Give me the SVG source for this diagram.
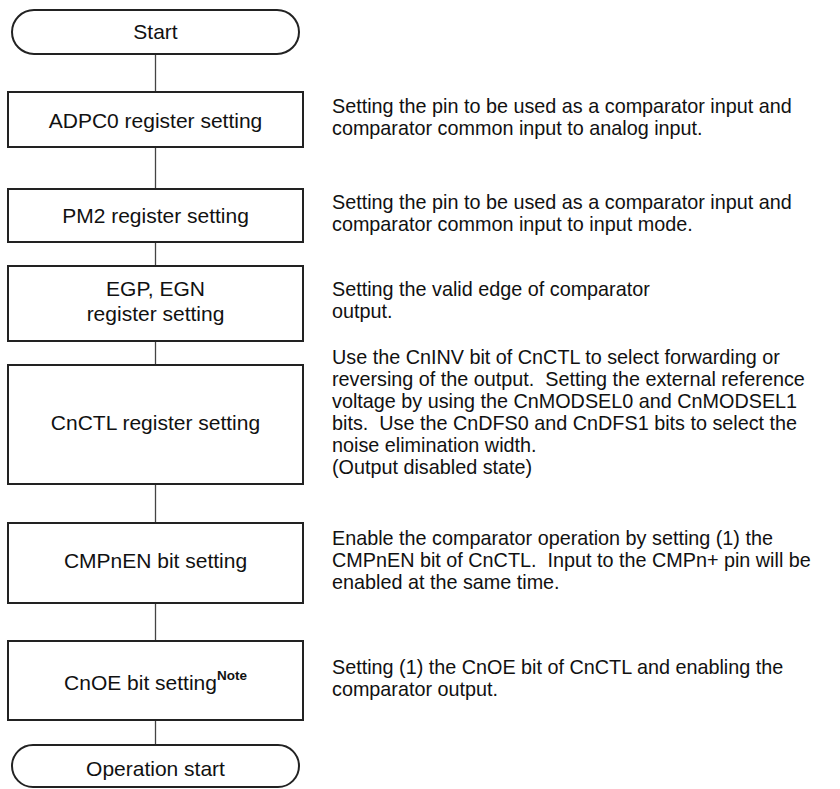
<svg xmlns="http://www.w3.org/2000/svg" width="840" height="789" viewBox="0 0 840 789">
<style>
.box{fill:#fff;stroke:#222;stroke-width:2}
.term{fill:#fff;stroke:#222;stroke-width:2}
.lbl{font-family:"Liberation Sans",Arial,sans-serif;font-size:21px;fill:#111;text-anchor:middle}
.desc{font-family:"Liberation Sans",Arial,sans-serif;font-size:19.8px;fill:#111;white-space:pre}
.note{font-family:"Liberation Sans",Arial,sans-serif;font-size:13.5px;font-weight:bold;fill:#111}
.conn{stroke:#444;stroke-width:1.3;fill:none}
</style>
<rect width="840" height="789" fill="#fff"/>
<g id="connectors">
<line class="conn" x1="155.5" y1="54" x2="155.5" y2="92"/>
<line class="conn" x1="155.5" y1="147" x2="155.5" y2="189"/>
<line class="conn" x1="155.5" y1="242" x2="155.5" y2="266"/>
<line class="conn" x1="155.5" y1="341" x2="155.5" y2="365"/>
<line class="conn" x1="155.5" y1="484" x2="155.5" y2="523"/>
<line class="conn" x1="155.5" y1="603" x2="155.5" y2="641"/>
<line class="conn" x1="155.5" y1="720" x2="155.5" y2="745"/>
</g>
<g id="start">
<rect class="term" x="12" y="10" width="287" height="44" rx="22" ry="22"/>
<text class="lbl" x="155.5" y="39">Start</text>
</g>
<g id="adpc0">
<rect class="box" x="8" y="92" width="295" height="55"/>
<text class="lbl" x="155.5" y="128">ADPC0 register setting</text>
<text class="desc" x="332" y="113">Setting the pin to be used as a comparator input and</text>
<text class="desc" x="332" y="135">comparator common input to analog input.</text>
</g>
<g id="pm2">
<rect class="box" x="8" y="189" width="295" height="53"/>
<text class="lbl" x="155.5" y="223">PM2 register setting</text>
<text class="desc" x="332" y="209">Setting the pin to be used as a comparator input and</text>
<text class="desc" x="332" y="231">comparator common input to input mode.</text>
</g>
<g id="egp">
<rect class="box" x="8" y="266" width="295" height="75"/>
<text class="lbl" x="155.5" y="296">EGP, EGN</text>
<text class="lbl" x="155.5" y="321">register setting</text>
<text class="desc" x="332" y="296">Setting the valid edge of comparator</text>
<text class="desc" x="332" y="318">output.</text>
</g>
<g id="cnctl">
<rect class="box" x="8" y="365" width="295" height="119"/>
<text class="lbl" x="155.5" y="430">CnCTL register setting</text>
<text class="desc" x="332" y="364" xml:space="preserve">Use the CnINV bit of CnCTL to select forwarding or</text>
<text class="desc" x="332" y="386" xml:space="preserve">reversing of the output.  Setting the external reference</text>
<text class="desc" x="332" y="408" xml:space="preserve">voltage by using the CnMODSEL0 and CnMODSEL1</text>
<text class="desc" x="332" y="430" xml:space="preserve">bits.  Use the CnDFS0 and CnDFS1 bits to select the</text>
<text class="desc" x="332" y="452" xml:space="preserve">noise elimination width.</text>
<text class="desc" x="332" y="474" xml:space="preserve">(Output disabled state)</text>
</g>
<g id="cmpnen">
<rect class="box" x="8" y="523" width="295" height="80"/>
<text class="lbl" x="155.5" y="568">CMPnEN bit setting</text>
<text class="desc" x="332" y="545" xml:space="preserve">Enable the comparator operation by setting (1) the</text>
<text class="desc" x="332" y="567" xml:space="preserve">CMPnEN bit of CnCTL.  Input to the CMPn+ pin will be</text>
<text class="desc" x="332" y="589" xml:space="preserve">enabled at the same time.</text>
</g>
<g id="cnoe">
<rect class="box" x="8" y="641" width="295" height="79"/>
<text class="lbl" x="155.5" y="690">CnOE bit setting<tspan class="note" dy="-10">Note</tspan></text>
<text class="desc" x="332" y="674">Setting (1) the CnOE bit of CnCTL and enabling the</text>
<text class="desc" x="332" y="696">comparator output.</text>
</g>
<g id="opstart">
<rect class="term" x="12" y="745" width="287" height="42" rx="21" ry="21"/>
<text class="lbl" x="155.5" y="776">Operation start</text>
</g>
</svg>
